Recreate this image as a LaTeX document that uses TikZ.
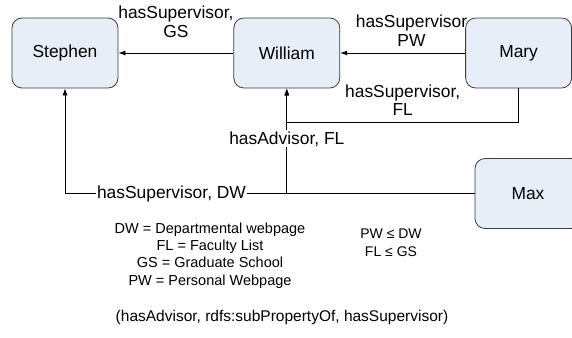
\documentclass[tikz,border=0pt]{standalone}
\usepackage{fontspec}
\setmainfont{Liberation Sans}
\usetikzlibrary{positioning,arrows.meta}

\definecolor{boxfill}{RGB}{232,238,248}
\definecolor{boxline}{RGB}{60,60,60}

\begin{document}
\begin{tikzpicture}[>={Latex[length=7pt,width=5pt]},line width=0.8pt,
    person/.style={draw=boxline,fill=boxfill,rounded corners=10pt,
      minimum width=106pt,minimum height=70pt,font=\fontsize{17.4}{19}\selectfont},
    lbl/.style={font=\fontsize{17.4}{19}\selectfont,align=center,inner sep=1pt}]
  \path[use as bounding box,clip] (0,0) rectangle (572pt,-337pt);

  % people
  \node[person] (stephen) at (65pt,-53pt) {Stephen};
  \node[person,right=115pt of stephen] (william) {William};
  \node[person,right=125pt of william] (mary) {Mary};
  \node[person] (max) at (528pt,-193.5pt) {Max};
  \coordinate (split) at (william.south |- max.west);

  % relations
  \path[->,draw] (william) edge node[lbl,above=14pt] {hasSupervisor,\\GS} (stephen);
  \path[->,draw] (mary) edge node[lbl,above=5pt,pos=0.43] {hasSupervisor\\PW} (william);
  \draw[->] (mary.south) -- ++(0,-34pt) -| node[lbl,above=6pt,pos=0.25,
    font=\fontsize{17.4}{17.5}\selectfont] {hasSupervisor,\\FL} (william.south);
  \draw[->] (max.west) -| node[lbl,fill=white,pos=0.76] {hasAdvisor, FL} (william.south);
  \draw[->] (split) -| node[lbl,fill=white,pos=0.26] {hasSupervisor, DW} (stephen.south);

  % abbreviations and ordering
  \node[font=\fontsize{14.5}{17.3}\selectfont,align=center] (legend) at (210pt,-255.5pt)
    {DW = Departmental webpage\\FL = Faculty List\\GS = Graduate School\\PW = Personal Webpage};
  \node[font=\fontsize{14}{18}\selectfont,align=center] (order) at (391pt,-243pt)
    {PW~≤~DW\\FL~≤~GS};
  \node[font=\fontsize{15.5}{18}\selectfont] (axiom) at (282pt,-317pt)
    {(hasAdvisor, rdfs:subPropertyOf, hasSupervisor)};
\end{tikzpicture}
\end{document}
